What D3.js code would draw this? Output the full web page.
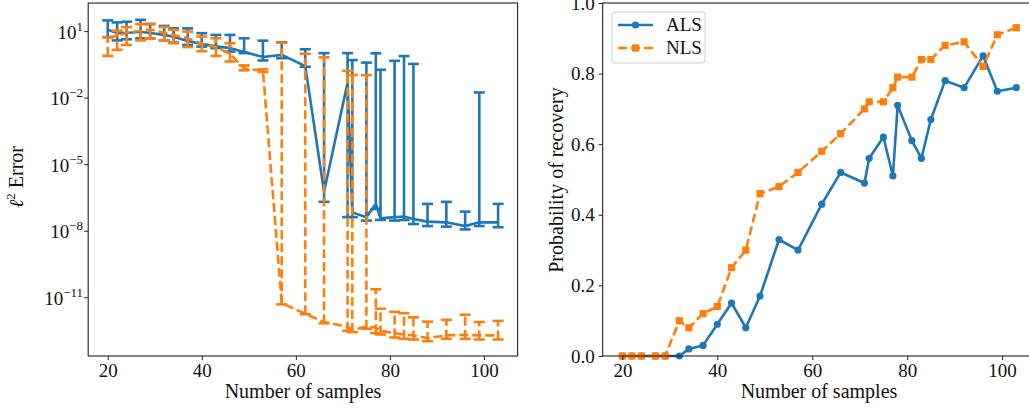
<!DOCTYPE html>
<html>
<head>
<meta charset="utf-8">
<script src="https://cdn.jsdelivr.net/npm/d3@7"></script>
<style>
  body { margin: 0; background: #fff; }
  text { font-family: "Liberation Serif", "DejaVu Serif", serif; fill: #111; }
</style>
</head>
<body>
<svg id="chart" width="1029" height="408"></svg>
<script>
// number of samples (shared by both panels)
const samples = [20, 22, 24, 27, 29, 32, 34, 37, 40, 43, 46, 49, 53, 57, 62, 66, 71, 72, 75, 77, 78, 81, 83, 85, 88, 92, 96, 99, 103];

// left panel: l2 error, median + lower / upper bar ends
const alsErr = [12, 8.7, 8.7, 9.8, 8.7, 7.1, 5.8, 3.8, 2.8, 2.2, 1.8, 1.2, 0.72, 0.89, 0.28, 6e-7, 5e-2, 7e-8, 4.3e-8, 1.7e-7, 3.8e-8, 4.3e-8, 4.6e-8, 3.5e-8, 2.7e-8, 2.5e-8, 1.7e-8, 2.5e-8, 2.5e-8];
const alsLo  = [5.6, 4, 4.5, 5, 5, 4, 3.2, 2.5, 2.1, 1.8, 1.26, 1.07, 0.5, 0.63, 0.26, 2.1e-7, 4.3e-8, 4.3e-8, 3e-8, 1e-7, 3.2e-8, 3e-8, 3.2e-8, 2.1e-8, 1.7e-8, 1.6e-8, 1.2e-8, 1.7e-8, 1.5e-8];
const alsHi  = [32, 26, 28, 34, 22, 18, 14, 14, 8.5, 7.1, 7.1, 5, 3.9, 3.3, 1.6, 1.07, 1.07, 0.52, 0.4, 1.05, 0.19, 0.48, 0.79, 0.35, 1.7e-7, 2.1e-7, 7.6e-8, 1.8e-2, 1.7e-7];

const nlsErr = [5.6, 6.3, 8.9, 11, 12.6, 8.9, 7.1, 5, 2.8, 2, 1, 0.22, 0.17, 5.6e-12, 1.9e-12, 7.9e-13, 5e-13, 3.5e-13, 5e-13, 4.5e-13, 3.2e-13, 2.5e-13, 2.2e-13, 2e-13, 1.5e-13, 2e-13, 2.1e-13, 2e-13, 2e-13];
const nlsLo  = [0.8, 1.5, 2.5, 4, 5, 4, 3, 2, 1.3, 0.8, 0.45, 0.18, 0.15, 5e-12, 1.8e-12, 7e-13, 3.2e-13, 2.8e-13, 4e-13, 2.5e-13, 2.2e-13, 1.6e-13, 1.4e-13, 1.3e-13, 1.1e-13, 1.4e-13, 1.4e-13, 1.3e-13, 1.3e-13];
const nlsHi  = [5.6, 11, 16, 22, 22, 16, 12, 10, 6, 5, 3, 0.3, 0.2, 3.2, 1, 0.69, 0.17, 0.11, 0.11, 2.4e-11, 3.2e-12, 2.3e-12, 2e-12, 1.3e-12, 8.3e-13, 1e-12, 1.7e-12, 8e-13, 9e-13];

// right panel: probability of recovery
const alsProb = [0, 0, 0, 0, 0, 0, 0.02, 0.03, 0.09, 0.15, 0.08, 0.17, 0.33, 0.30, 0.43, 0.52, 0.49, 0.56, 0.62, 0.51, 0.71, 0.61, 0.56, 0.67, 0.78, 0.76, 0.85, 0.75, 0.76];
const nlsProb = [0, 0, 0, 0, 0, 0.10, 0.08, 0.12, 0.14, 0.25, 0.30, 0.46, 0.48, 0.52, 0.58, 0.63, 0.70, 0.72, 0.72, 0.76, 0.79, 0.79, 0.84, 0.84, 0.88, 0.89, 0.82, 0.91, 0.93];

const xTicks = [20, 40, 60, 80, 100];
const logTicks = [1, -2, -5, -8, -11];
const probTicks = [0, 0.2, 0.4, 0.6, 0.8, 1.0];
const seriesNames = ["ALS", "NLS"];

const blue = "#1f77b4", orange = "#ff7f0e";
const lw = 2.6, dash = "9,4";

const svg = d3.select("#chart");

// panel geometry
const yTop = 3, yBot = 356;
const xL = d3.scaleLinear().domain([15.85, 107.15]).range([88.2, 517.6]);
const yL = d3.scaleLog().domain([Math.pow(10, -13.63), Math.pow(10, 2.29)]).range([yBot, yTop]);
const xR = d3.scaleLinear().domain([15.85, 107.15]).range([602.7, 1036]);
const yR = d3.scaleLinear().domain([0, 1]).range([yBot, yTop]);

function frame(x0, x1) {
  svg.append("rect")
    .attr("x", x0).attr("y", yTop)
    .attr("width", x1 - x0).attr("height", yBot - yTop)
    .attr("fill", "none").attr("stroke", "#222").attr("stroke-width", 1.1);
}

function xAxis(x) {
  const g = svg.append("g").attr("transform", `translate(0,${yBot})`);
  g.call(d3.axisBottom(x).tickValues(xTicks).tickSize(4).tickPadding(4).tickFormat(d3.format("d")));
  g.select(".domain").remove();
  g.selectAll("line").attr("stroke", "#222");
  g.selectAll("text").attr("font-size", 19).attr("font-family", "Liberation Serif").attr("fill", "#111");
}

// ---------- left panel ----------
const gl = svg.append("g");

function errorSeries(errs, lo, hi, color, dashed) {
  const g = gl.append("g");
  const line = d3.line().x((d, i) => xL(samples[i])).y(d => yL(d));
  g.append("path").datum(errs)
    .attr("d", line).attr("fill", "none")
    .attr("stroke", color).attr("stroke-width", lw)
    .attr("stroke-dasharray", dashed ? dash : null);
  samples.forEach((s, i) => {
    const cx = xL(s);
    g.append("line")
      .attr("x1", cx).attr("x2", cx)
      .attr("y1", yL(lo[i])).attr("y2", yL(hi[i]))
      .attr("stroke", color).attr("stroke-width", lw)
      .attr("stroke-dasharray", dashed ? dash : null);
    [lo[i], hi[i]].forEach(v => {
      g.append("line")
        .attr("x1", cx - 5.5).attr("x2", cx + 5.5)
        .attr("y1", yL(v)).attr("y2", yL(v))
        .attr("stroke", color).attr("stroke-width", lw);
    });
  });
}

errorSeries(alsErr, alsLo, alsHi, blue, false);
errorSeries(nlsErr, nlsLo, nlsHi, orange, true);

frame(88.2, 517.6);
xAxis(xL);

// log ticks with superscripts
logTicks.forEach(e => {
  const y = yL(Math.pow(10, e));
  svg.append("line").attr("x1", 84.2).attr("x2", 88.2).attr("y1", y).attr("y2", y).attr("stroke", "#222");
  const t = svg.append("text")
    .attr("x", 83).attr("y", y + 7)
    .attr("text-anchor", "end").attr("font-size", 19);
  t.append("tspan").text("10");
  t.append("tspan").attr("dy", -8).attr("font-size", 13).text(String(e).replace("-", "\u2212"));
});

svg.append("text")
  .attr("transform", "translate(23,177) rotate(-90)")
  .attr("text-anchor", "middle").attr("font-size", 20)
  .call(t => {
    t.append("tspan").attr("font-style", "italic").text("\u2113");
    t.append("tspan").attr("dy", -8).attr("font-size", 13).text("2");
    t.append("tspan").attr("dy", 8).text(" Error");
  });

svg.append("text").attr("x", 303).attr("y", 398)
  .attr("text-anchor", "middle").attr("font-size", 20).text("Number of samples");

// ---------- right panel ----------
const gr = svg.append("g");

const lineR = data => d3.line().x((d, i) => xR(samples[i])).y(d => yR(d))(data);

gr.append("path").attr("d", lineR(alsProb))
  .attr("fill", "none").attr("stroke", blue).attr("stroke-width", lw);
gr.selectAll("circle.als").data(alsProb).join("circle")
  .attr("cx", (d, i) => xR(samples[i])).attr("cy", d => yR(d))
  .attr("r", 3.6).attr("fill", blue);

gr.append("path").attr("d", lineR(nlsProb))
  .attr("fill", "none").attr("stroke", orange).attr("stroke-width", lw)
  .attr("stroke-dasharray", dash);
gr.selectAll("rect.nls").data(nlsProb).join("rect")
  .attr("x", (d, i) => xR(samples[i]) - 3.6).attr("y", d => yR(d) - 3.6)
  .attr("width", 7.2).attr("height", 7.2).attr("fill", orange);

frame(602.7, 1036);
xAxis(xR);

const ya = svg.append("g").attr("transform", "translate(602.7,0)");
ya.call(d3.axisLeft(yR).tickValues(probTicks).tickSize(4).tickPadding(4).tickFormat(d3.format(".1f")));
ya.select(".domain").remove();
ya.selectAll("line").attr("stroke", "#222");
ya.selectAll("text").attr("font-size", 19).attr("font-family", "Liberation Serif").attr("fill", "#111");

svg.append("text")
  .attr("transform", "translate(563,180) rotate(-90)")
  .attr("text-anchor", "middle").attr("font-size", 20).text("Probability of recovery");

svg.append("text").attr("x", 819).attr("y", 398)
  .attr("text-anchor", "middle").attr("font-size", 20).text("Number of samples");

// legend
const lg = svg.append("g");
lg.append("rect").attr("x", 612).attr("y", 12).attr("width", 93).attr("height", 51)
  .attr("rx", 3).attr("fill", "#fff").attr("fill-opacity", 0.8)
  .attr("stroke", "#ccc").attr("stroke-width", 1);
seriesNames.forEach((name, i) => {
  const y = 25 + i * 23;
  const c = i === 0 ? blue : orange;
  lg.append("line").attr("x1", 618).attr("x2", 653).attr("y1", y).attr("y2", y)
    .attr("stroke", c).attr("stroke-width", lw)
    .attr("stroke-dasharray", i === 0 ? null : dash);
  if (i === 0) {
    lg.append("circle").attr("cx", 635.5).attr("cy", y).attr("r", 3.6).attr("fill", c);
  } else {
    lg.append("rect").attr("x", 631.9).attr("y", y - 3.6).attr("width", 7.2).attr("height", 7.2).attr("fill", c);
  }
  lg.append("text").attr("x", 666).attr("y", y + 6).attr("font-size", 19).text(name);
});
</script>
</body>
</html>
